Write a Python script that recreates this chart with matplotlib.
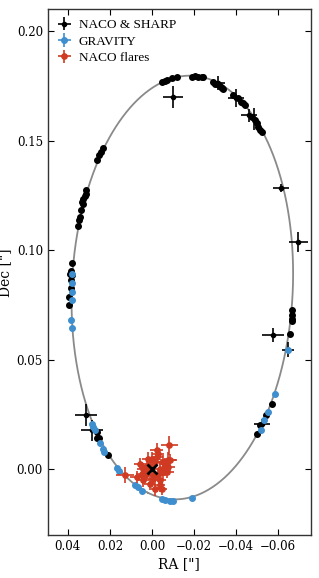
import numpy as np
import matplotlib
matplotlib.use("Agg")
import matplotlib.pyplot as plt

# S2 orbital elements (a in arcsec, angles in deg)
a_orb = 0.1255
e_orb = 0.8863
inc = 134.18
Omega = 226.94
omega = 65.51

# NACO & SHARP positions without visible error bars
naco_ra = [-0.0046, -0.0070, -0.0094, -0.0118, -0.0062, -0.0189, -0.0205, -0.0220, -0.0237, -0.0244,
           -0.0289, -0.0300, -0.0308, -0.0320, -0.0327, -0.0332, -0.0340, -0.0387, -0.0411, -0.0422,
           -0.0435, -0.0443, -0.0475, -0.0490, -0.0499, -0.0506, -0.0514, -0.0522,
           -0.0665, -0.0665, -0.0665, -0.0665, -0.0657,
           -0.0570, -0.0543, -0.0514, -0.0499,
           0.0235, 0.0244, 0.0251, 0.0260,
           0.0314, 0.0314, 0.0319, 0.0327, 0.0333, 0.0330, 0.0338, 0.0343, 0.0346, 0.0351,
           0.0378, 0.0387, 0.0390, 0.0382, 0.0387, 0.0387, 0.0394, 0.0395,
           0.0263, 0.0263, 0.0252, 0.0211]
naco_dec = [0.1768, 0.1779, 0.1787, 0.1791, 0.1773, 0.1791, 0.1795, 0.1793, 0.1791, 0.1789,
            0.1768, 0.1761, 0.1758, 0.1753, 0.1746, 0.1741, 0.1738, 0.1708, 0.1693, 0.1677,
            0.1670, 0.1662, 0.1609, 0.1594, 0.1579, 0.1563, 0.1551, 0.1540,
            0.0726, 0.0703, 0.0688, 0.0676, 0.0620,
            0.0297, 0.0247, 0.0201, 0.0163,
            0.1469, 0.1449, 0.1434, 0.1411,
            0.1274, 0.1259, 0.1247, 0.1236, 0.1221, 0.1210, 0.1183, 0.1152, 0.1137, 0.1110,
            0.0942, 0.0905, 0.0894, 0.0886, 0.0863, 0.0830, 0.0787, 0.0749,
            0.0170, 0.0145, 0.0145, 0.0068]

# NACO & SHARP positions with large errors
nacoeb_ra = [-0.0099, -0.0316, -0.0400, -0.0462, -0.0487, -0.0614, -0.0697, -0.0575, -0.0649, -0.0522, 0.0314, 0.0287]
nacoeb_dec = [0.1700, 0.1764, 0.1697, 0.1616, 0.1601, 0.1284, 0.1038, 0.0612, 0.0546, 0.0209, 0.0247, 0.0178]
nacoeb_xerr = [0.0048, 0.0033, 0.0038, 0.0038, 0.0015, 0.0036, 0.0045, 0.0052, 0.0029, 0.0038, 0.0052, 0.0052]
nacoeb_yerr = [0.0050, 0.0032, 0.0041, 0.0030, 0.0050, 0.0018, 0.0046, 0.0032, 0.0034, 0.0023, 0.0050, 0.0046]

# GRAVITY
grav_ra = [0.0378, 0.0382, 0.0382, 0.0382, 0.0386, 0.0382,
           0.0287, 0.0280, 0.0271, 0.0248, 0.0235, 0.0227, 0.0168, 0.0156, 0.0081, 0.0065, 0.0049,
           -0.0046, -0.0062, -0.0086, -0.0099, -0.0189,
           -0.0649, -0.0586, -0.0554, -0.0535, -0.0518]
grav_dec = [0.0890, 0.0851, 0.0810, 0.0775, 0.0684, 0.0645,
            0.0209, 0.0193, 0.0178, 0.0123, 0.0095, 0.0079, 0.0008, -0.0005, -0.0073, -0.0081, -0.0096,
            -0.0134, -0.0138, -0.0142, -0.0142, -0.0131,
            0.0546, 0.0346, 0.0262, 0.0224, 0.0178]

# NACO flares
flare_ra = [-0.0082, -0.0022, -0.0030, 0.0018, -0.0054, -0.0078, 0.0041, 0.0049, 0.0025, -0.0006,
            -0.0038, -0.0070, 0.0129, 0.0073, 0.0041, -0.0006, -0.0038, 0.0010, -0.0014, -0.0038,
            -0.0062, -0.0086, -0.0062, -0.0078, -0.0054, -0.0046,
            0.0010, -0.0014, 0.0024, -0.0029, 0.0033, 0.0000, -0.0024, 0.0057]
flare_dec = [0.0110, 0.0087, 0.0072, 0.0049, 0.0033, 0.0041, 0.0003, -0.0020, -0.0012, -0.0027,
             0.0003, -0.0012, -0.0024, -0.0035, -0.0050, -0.0042, -0.0050, -0.0065, -0.0088, -0.0073,
             -0.0005, 0.0041, 0.0026, 0.0011, -0.0012, -0.0088,
             0.0018, 0.0032, 0.0014, -0.0027, -0.0032, 0.0050, 0.0055, 0.0027]
flare_xerr = [0.0040, 0.0032, 0.0028, 0.0030, 0.0035, 0.0038, 0.0030, 0.0028, 0.0028, 0.0026,
              0.0030, 0.0034, 0.0042, 0.0030, 0.0028, 0.0026, 0.0030, 0.0026, 0.0020, 0.0026,
              0.0030, 0.0034, 0.0026, 0.0030, 0.0026, 0.0026,
              0.0026, 0.0028, 0.0024, 0.0026, 0.0028, 0.0026, 0.0030, 0.0028]
flare_yerr = [0.0043, 0.0032, 0.0028, 0.0032, 0.0034, 0.0038, 0.0026, 0.0030, 0.0028, 0.0026,
              0.0030, 0.0028, 0.0036, 0.0026, 0.0030, 0.0028, 0.0034, 0.0030, 0.0034, 0.0030,
              0.0026, 0.0030, 0.0026, 0.0030, 0.0034, 0.0030,
              0.0028, 0.0026, 0.0026, 0.0028, 0.0026, 0.0030, 0.0028, 0.0026]

black = 'black'
blue = '#3f8fcf'
red = '#d03a22'

# orbit curve from Thiele-Innes constants
w, W, i = np.radians(omega), np.radians(Omega), np.radians(inc)
A = a_orb * (np.cos(w) * np.cos(W) - np.sin(w) * np.sin(W) * np.cos(i))
B = a_orb * (np.cos(w) * np.sin(W) + np.sin(w) * np.cos(W) * np.cos(i))
F = a_orb * (-np.sin(w) * np.cos(W) - np.cos(w) * np.sin(W) * np.cos(i))
G = a_orb * (-np.sin(w) * np.sin(W) + np.cos(w) * np.cos(W) * np.cos(i))
E = np.linspace(0, 2 * np.pi, 1000)
X = np.cos(E) - e_orb
Y = np.sqrt(1 - e_orb ** 2) * np.sin(E)
orb_dec = A * X + F * Y
orb_ra = B * X + G * Y

fig = plt.figure(figsize=(3.19, 5.78), dpi=100)
ax = fig.add_axes([0.150, 0.074, 0.825, 0.910])

ax.plot(orb_ra, orb_dec, color='#8a8a8a', lw=1.3, zorder=1)

ax.plot(naco_ra, naco_dec, 'o', color=black, ms=4.0, zorder=2)
ax.errorbar(nacoeb_ra, nacoeb_dec, xerr=nacoeb_xerr, yerr=nacoeb_yerr, fmt='o', color=black,
            ms=3.0, elinewidth=1.2, capsize=0, zorder=3, label='NACO & SHARP')
ax.errorbar(grav_ra, grav_dec, xerr=0.0003, yerr=0.0003, fmt='o', color=blue, ms=4.0,
            elinewidth=1.2, capsize=0, zorder=4, label='GRAVITY')
ax.errorbar(flare_ra, flare_dec, xerr=flare_xerr, yerr=flare_yerr, fmt='o', color=red, ms=3.8,
            elinewidth=1.2, capsize=0, zorder=5, label='NACO flares')
ax.plot([0], [0], 'x', color=black, ms=7, mew=2.0, zorder=6)

ax.set_xlim(0.0495, -0.0757)
ax.set_ylim(-0.030, 0.210)
ax.set_xticks([0.04, 0.02, 0.00, -0.02, -0.04, -0.06])
ax.set_yticks([0.00, 0.05, 0.10, 0.15, 0.20])
ax.set_xticklabels(['0.04', '0.02', '0.00', '\u22120.02', '\u22120.04', '\u22120.06'])
ax.tick_params(direction='in', top=True, right=True, length=4, width=0.8, labelsize=8.5)
for lab in ax.get_xticklabels() + ax.get_yticklabels():
    lab.set_family('DejaVu Serif')
for s in ax.spines.values():
    s.set_linewidth(1.0)
    s.set_color('#333333')

ax.set_xlabel('RA ["]', family='DejaVu Serif', fontsize=10, labelpad=3)
ax.set_ylabel('Dec ["]', family='DejaVu Serif', fontsize=10, labelpad=3)

ax.legend(loc='upper left', frameon=False, prop={'family': 'Liberation Serif', 'size': 9.5},
          handlelength=1.0, handletextpad=0.6, labelspacing=0.3, borderaxespad=0.35)

fig.savefig('out.png', dpi=100)
